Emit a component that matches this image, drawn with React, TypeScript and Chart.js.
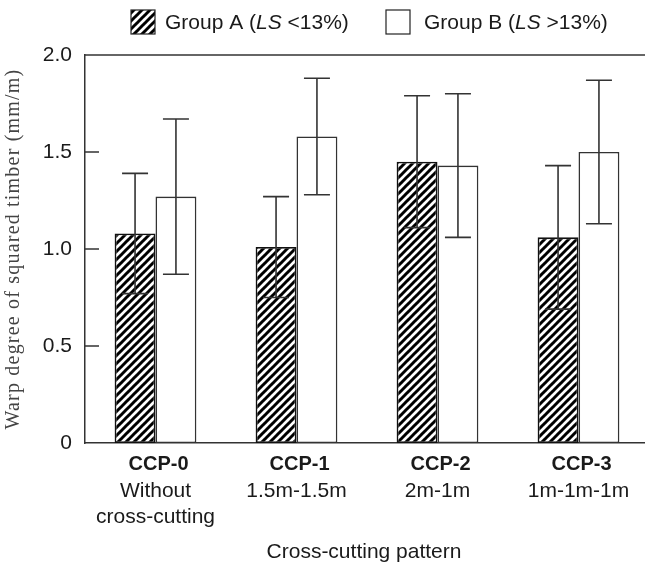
import React, { useEffect, useRef } from 'react';
import { Chart, registerables } from 'chart.js';

Chart.register(...registerables);

const categories = ['CCP-0', 'CCP-1', 'CCP-2', 'CCP-3'];
const categoryNotes = [['Without', 'cross-cutting'], ['1.5m-1.5m'], ['2m-1m'], ['1m-1m-1m']];
const groupAMean = [1.08, 1.01, 1.45, 1.06];
const groupAErr = [0.31, 0.26, 0.34, 0.37];
const groupBMean = [1.27, 1.58, 1.43, 1.5];
const groupBErr = [0.4, 0.3, 0.37, 0.37];
const yMin = 0;
const yMax = 2;
const yStep = 0.5;
const yAxisTitle = 'Warp degree of squared timber (mm/m)';
const xAxisTitle = 'Cross-cutting pattern';
const legendA = ['Group A (', 'LS', ' <13%)'];
const legendB = ['Group B (', 'LS', ' >13%)'];

const SANS = "'Liberation Sans', Arial, sans-serif";
const SERIF = "'Liberation Serif', 'Times New Roman', serif";
const INK = '#1a1a1a';
const LINE = '#333';

function makeHatch(ctx: CanvasRenderingContext2D) {
  const n = 8;
  const c = document.createElement('canvas');
  c.width = n;
  c.height = n;
  const g = c.getContext('2d')!;
  g.fillStyle = '#fff';
  g.fillRect(0, 0, n, n);
  g.strokeStyle = '#000';
  g.lineWidth = 3;
  for (const k of [-n, 0, n]) {
    g.beginPath();
    g.moveTo(-1, n + 1 + k);
    g.lineTo(n + 1, -1 + k);
    g.stroke();
  }
  return ctx.createPattern(c, 'repeat')!;
}

function drawRich(ctx: CanvasRenderingContext2D, parts: string[], x: number, y: number) {
  let cx = x;
  parts.forEach((p, i) => {
    ctx.font = (i === 1 ? 'italic ' : '') + '21px ' + SANS;
    ctx.fillText(p, cx, y);
    cx += ctx.measureText(p).width;
  });
}

export default function App() {
  const ref = useRef<HTMLCanvasElement | null>(null);

  useEffect(() => {
    const canvas = ref.current!;
    const ctx0 = canvas.getContext('2d')!;
    const hatch = makeHatch(ctx0);
    const errs = [groupAErr, groupBErr];

    const decor = {
      id: 'decor',
      afterDatasetsDraw(chart: any) {
        const ctx = chart.ctx as CanvasRenderingContext2D;
        const y = chart.scales.y;
        chart.data.datasets.forEach((ds: any, di: number) => {
          const meta = chart.getDatasetMeta(di);
          meta.data.forEach((bar: any, i: number) => {
            const v = ds.data[i];
            const e = errs[di][i];
            const yHi = y.getPixelForValue(v + e);
            const yLo = y.getPixelForValue(v - e);
            const cx = bar.x;
            ctx.save();
            ctx.strokeStyle = LINE;
            ctx.lineWidth = 1.6;
            ctx.beginPath();
            ctx.moveTo(cx, yHi);
            ctx.lineTo(cx, yLo);
            ctx.moveTo(cx - 13, yHi);
            ctx.lineTo(cx + 13, yHi);
            ctx.moveTo(cx - 13, yLo);
            ctx.lineTo(cx + 13, yLo);
            ctx.stroke();
            ctx.restore();
          });
        });
      },
      afterDraw(chart: any) {
        const ctx = chart.ctx as CanvasRenderingContext2D;
        const { left, right, top, bottom } = chart.chartArea;
        const y = chart.scales.y;
        const x = chart.scales.x;
        ctx.save();
        // top frame line
        ctx.strokeStyle = LINE;
        ctx.lineWidth = 1.5;
        ctx.beginPath();
        ctx.moveTo(left, top);
        ctx.lineTo(right + 20, top);
        ctx.stroke();
        // inner ticks
        ctx.beginPath();
        y.ticks.forEach((t: any) => {
          if (t.value <= yMin || t.value >= yMax) return;
          const py = y.getPixelForValue(t.value);
          ctx.moveTo(left, py);
          ctx.lineTo(left + 14, py);
        });
        ctx.stroke();

        // x category labels
        ctx.fillStyle = INK;
        ctx.textAlign = 'center';
        ctx.textBaseline = 'alphabetic';
        categories.forEach((c, i) => {
          const px = x.getPixelForValue(i);
          ctx.font = 'bold 20px ' + SANS;
          ctx.fillText(c, px + 3, bottom + 27);
          ctx.font = '21px ' + SANS;
          categoryNotes[i].forEach((line, li) => {
            ctx.fillText(line, px, bottom + 54 + li * 26);
          });
        });
        // x title
        ctx.font = '21px ' + SANS;
        ctx.fillText(xAxisTitle, (left + right) / 2 - 3, bottom + 115);

        // y title
        ctx.save();
        ctx.translate(19, (top + bottom) / 2);
        ctx.rotate(-Math.PI / 2);
        ctx.font = '20px ' + SERIF;
        (ctx as any).letterSpacing = '1.2px';
        ctx.fillStyle = '#444';
        ctx.textAlign = 'center';
        ctx.fillText(yAxisTitle, 0, 0);
        ctx.restore();

        // legend
        ctx.textAlign = 'left';
        ctx.fillStyle = hatch;
        ctx.fillRect(131, 10, 24, 24);
        ctx.lineWidth = 1.2;
        ctx.strokeStyle = '#222';
        ctx.strokeRect(131, 10, 24, 24);
        ctx.fillStyle = '#fff';
        ctx.fillRect(386, 10, 24, 24);
        ctx.strokeRect(386, 10, 24, 24);
        ctx.fillStyle = INK;
        drawRich(ctx, legendA, 165, 29);
        drawRich(ctx, legendB, 424, 29);
        ctx.restore();
      },
    };

    const chart = new Chart(canvas, {
      type: 'bar',
      data: {
        labels: categories,
        datasets: [
          {
            label: legendA.join(''),
            data: groupAMean,
            backgroundColor: hatch as any,
            borderColor: '#111',
            borderWidth: 1.8,
            borderSkipped: false,
          },
          {
            label: legendB.join(''),
            data: groupBMean,
            backgroundColor: '#fff',
            borderColor: LINE,
            borderWidth: 1.6,
            borderSkipped: false,
          },
        ],
      },
      options: {
        responsive: false,
        animation: false,
        layout: { padding: { top: 55, left: 0, right: 0, bottom: 0 } },
        datasets: { bar: { categoryPercentage: 0.58, barPercentage: 1.0 } },
        plugins: { legend: { display: false }, tooltip: { enabled: false } },
        scales: {
          x: {
            grid: { display: false, drawTicks: false },
            ticks: { display: false },
            border: { display: true, color: LINE, width: 1.5 },
            afterFit: (s: any) => {
              s.height = 120;
            },
          },
          y: {
            min: yMin,
            max: yMax,
            grid: { display: false, drawTicks: false },
            border: { display: true, color: LINE, width: 1.5 },
            ticks: {
              stepSize: yStep,
              padding: 13,
              color: INK,
              font: { size: 21, family: SANS },
              callback: (v: any) => (Number(v) === 0 ? '0' : Number(v).toFixed(1)),
            },
            afterFit: (s: any) => {
              s.width = 85;
            },
          },
        },
      },
      plugins: [decor],
    });
    return () => chart.destroy();
  }, []);

  return (
    <div style={{ position: 'absolute', left: 0, top: 0, width: 645, height: 563, overflow: 'hidden', background: '#fff' }}>
      <canvas ref={ref} width={649} height={563} style={{ display: 'block' }} />
    </div>
  );
}
